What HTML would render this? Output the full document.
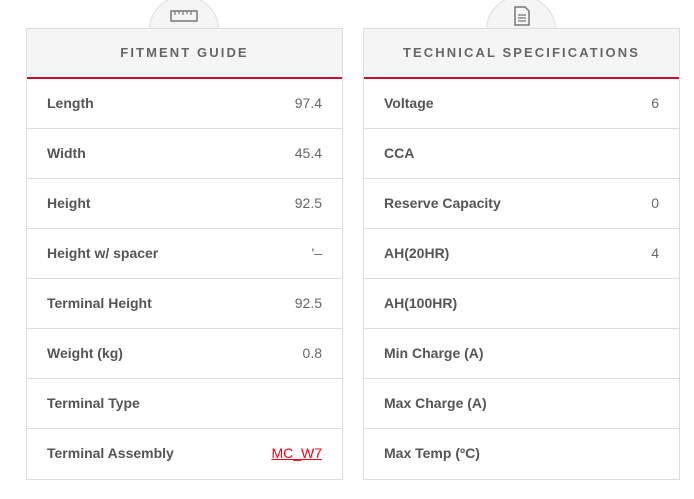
<!DOCTYPE html>
<html><head><style>
body{margin:0;width:694px;height:499px;background:#fff;font-family:"Liberation Sans",sans-serif;position:relative;overflow:hidden}
.p{position:absolute;top:28px;width:315px;border:1px solid #ddd;border-top:none;background:#fff}
.tab{position:absolute;top:-4px;width:68px;height:40px;border:1px solid #ddd;border-radius:34px 34px 0 0;background:#f5f5f5}
.h{position:relative;height:48px;background:#f5f5f5;border-top:1px solid #ddd;border-bottom:2px solid #c8102e;text-align:center;line-height:47px;font-weight:bold;font-size:13px;letter-spacing:2.1px;color:#666}
.r{border-bottom:1px solid #ddd;display:flex;justify-content:space-between;align-items:center;padding:0 20px 2px;box-sizing:border-box;height:50px;font-size:14px}
.r:last-child{border-bottom:none}
.r b{color:#555}
.r span{color:#666}
a{color:#f0001b}
</style></head><body>
<div class="tab" style="left:149px"><svg style="position:absolute;left:20px;top:12px" width="28" height="14"><rect x="1" y="2" width="26" height="10" fill="none" stroke="#777" stroke-width="1.5"/><path d="M5 2v4M9 2v3M13 2v4M17 2v3M21 2v4" stroke="#777" stroke-width="1.2"/></svg></div>
<div class="tab" style="left:486px"><svg style="position:absolute;left:27px;top:9px" width="16" height="20"><path d="M1 1h10l4 4v14H1z" fill="none" stroke="#777" stroke-width="1.5"/><path d="M4 9h8M4 12h8M4 15h8" stroke="#777" stroke-width="1.2"/></svg></div>
<div class="p" style="left:26px">
<div class="h">FITMENT GUIDE</div>
<div class="r"><b>Length</b><span>97.4</span></div>
<div class="r"><b>Width</b><span>45.4</span></div>
<div class="r"><b>Height</b><span>92.5</span></div>
<div class="r"><b>Height w/ spacer</b><span>'–</span></div>
<div class="r"><b>Terminal Height</b><span>92.5</span></div>
<div class="r"><b>Weight (kg)</b><span>0.8</span></div>
<div class="r"><b>Terminal Type</b><span></span></div>
<div class="r"><b>Terminal Assembly</b><span><a href="#">MC_W7</a></span></div>
</div>
<div class="p" style="left:363px">
<div class="h">TECHNICAL SPECIFICATIONS</div>
<div class="r"><b>Voltage</b><span>6</span></div>
<div class="r"><b>CCA</b><span></span></div>
<div class="r"><b>Reserve Capacity</b><span>0</span></div>
<div class="r"><b>AH(20HR)</b><span>4</span></div>
<div class="r"><b>AH(100HR)</b><span></span></div>
<div class="r"><b>Min Charge (A)</b><span></span></div>
<div class="r"><b>Max Charge (A)</b><span></span></div>
<div class="r"><b>Max Temp (ºC)</b><span></span></div>
</div>
</body></html>
